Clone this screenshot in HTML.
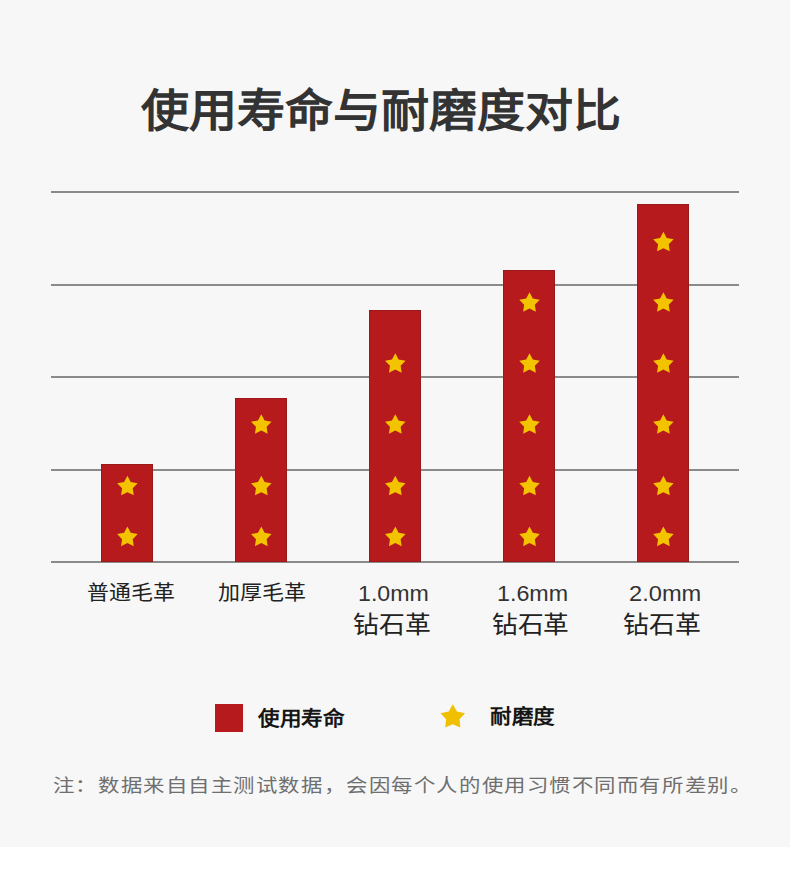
<!DOCTYPE html>
<html lang="zh-CN">
<head>
<meta charset="utf-8">
<style>
html,body{margin:0;padding:0;}
body{width:790px;height:884px;position:relative;overflow:hidden;background:#ffffff;font-family:"Liberation Sans",sans-serif;}
#bg{position:absolute;left:0;top:0;width:790px;height:847px;background:#f7f7f7;}
.t{position:absolute;white-space:nowrap;line-height:1;transform-origin:0 0;}
.g{position:absolute;left:51px;width:688px;height:2px;background:#8a8a8a;}
.bar{position:absolute;width:52px;background:#b71a1c;box-shadow:inset 0 0 0 1px #9a1a1c;}
</style>
</head>
<body>
<div id="bg"></div>
<div class="t" id="title" style="left:140.6px;top:89.42px;font-size:48px;color:#333;transform:scale(1.0,0.9447);font-weight:bold;">使用寿命与耐磨度对比</div>
<div class="g" style="top:191px"></div>
<div class="g" style="top:284px"></div>
<div class="g" style="top:376px"></div>
<div class="g" style="top:469px"></div>
<div class="g" style="top:561px"></div>
<div class="bar" style="left:101px;top:464px;height:98px"></div>
<div class="bar" style="left:235px;top:398px;height:164px"></div>
<div class="bar" style="left:369px;top:310px;height:252px"></div>
<div class="bar" style="left:503px;top:270px;height:292px"></div>
<div class="bar" style="left:637px;top:204px;height:358px"></div>
<svg width="790" height="884" style="position:absolute;left:0;top:0">
<defs><path id="st" d="M0.000,-10.800 L3.301,-4.543 L10.271,-3.337 L5.341,1.735 L6.348,8.737 L0.000,5.616 L-6.348,8.737 L-5.341,1.735 L-10.271,-3.337 L-3.301,-4.543 Z" fill="#f4c300"/><path id="st2" d="M0.000,-12.850 L4.154,-5.718 L12.221,-3.971 L6.722,2.184 L7.553,10.396 L0.000,7.068 L-7.553,10.396 L-6.722,2.184 L-12.221,-3.971 L-4.154,-5.718 Z" fill="#f0c000"/></defs>
<use href="#st" x="127.4" y="486.6"/>
<use href="#st" x="127.4" y="537.4"/>
<use href="#st" x="261.3" y="425"/>
<use href="#st" x="261.3" y="486.6"/>
<use href="#st" x="261.3" y="537.4"/>
<use href="#st" x="395.3" y="364"/>
<use href="#st" x="395.3" y="425"/>
<use href="#st" x="395.3" y="486.6"/>
<use href="#st" x="395.3" y="537.4"/>
<use href="#st" x="529.5" y="303"/>
<use href="#st" x="529.5" y="364"/>
<use href="#st" x="529.5" y="425"/>
<use href="#st" x="529.5" y="486.6"/>
<use href="#st" x="529.5" y="537.4"/>
<use href="#st" x="663.4" y="242.6"/>
<use href="#st" x="663.4" y="303"/>
<use href="#st" x="663.4" y="364"/>
<use href="#st" x="663.4" y="425"/>
<use href="#st" x="663.4" y="486.6"/>
<use href="#st" x="663.4" y="537.4"/>
<use href="#st2" x="452.8" y="717.1"/>
</svg>
<div class="t" id="lab1" style="left:86.7px;top:583.65px;font-size:22px;color:#222;transform:scale(0.9976,0.9048);">普通毛革</div>
<div class="t" id="lab2" style="left:217.7px;top:583.26px;font-size:22px;color:#222;transform:scale(1.0012,0.9238);">加厚毛革</div>
<div class="t" id="mm1" style="left:358.49px;top:583.29px;font-size:23px;color:#333;transform:scale(1.0075,0.9625);">1.0mm</div>
<div class="t" id="zs1" style="left:352.75px;top:613.48px;font-size:25px;color:#222;transform:scale(1.0347,0.95);">钻石革</div>
<div class="t" id="mm2" style="left:497.18px;top:583.14px;font-size:23px;color:#333;transform:scale(1.0119,0.9438);">1.6mm</div>
<div class="t" id="zs2" style="left:491.96px;top:613.08px;font-size:25px;color:#222;transform:scale(1.0292,0.9583);">钻石革</div>
<div class="t" id="mm3" style="left:628.86px;top:583.14px;font-size:23px;color:#333;transform:scale(1.0284,0.9438);">2.0mm</div>
<div class="t" id="zs3" style="left:622.55px;top:613.09px;font-size:25px;color:#222;transform:scale(1.0361,0.975);">钻石革</div>
<div style="position:absolute;left:215px;top:704px;width:28px;height:28px;background:#b71a1c"></div>
<div class="t" id="leg1t" style="left:257.71px;top:708.66px;font-size:22px;color:#151515;transform:scale(0.9828,0.9238);font-weight:900;">使用寿命</div>
<div class="t" id="leg2t" style="left:489.61px;top:707.46px;font-size:22px;color:#151515;transform:scale(0.9785,0.919);font-weight:900;">耐磨度</div>
<div class="t" id="note" style="left:51.82px;top:776.27px;font-size:20px;color:#6f6f6f;transform:scale(1,0.9316);font-weight:500;"><span style="display:inline-block;width:22.57px;text-align:center;transform:scaleX(1.07)">注</span><span style="display:inline-block;width:22.57px;text-align:center;transform:scaleX(1.07)">：</span><span style="display:inline-block;width:22.57px;text-align:center;transform:scaleX(1.07)">数</span><span style="display:inline-block;width:22.57px;text-align:center;transform:scaleX(1.07)">据</span><span style="display:inline-block;width:22.57px;text-align:center;transform:scaleX(1.07)">来</span><span style="display:inline-block;width:22.57px;text-align:center;transform:scaleX(1.07)">自</span><span style="display:inline-block;width:22.57px;text-align:center;transform:scaleX(1.07)">自</span><span style="display:inline-block;width:22.57px;text-align:center;transform:scaleX(1.07)">主</span><span style="display:inline-block;width:22.57px;text-align:center;transform:scaleX(1.07)">测</span><span style="display:inline-block;width:22.57px;text-align:center;transform:scaleX(1.07)">试</span><span style="display:inline-block;width:22.57px;text-align:center;transform:scaleX(1.07)">数</span><span style="display:inline-block;width:22.57px;text-align:center;transform:scaleX(1.07)">据</span><span style="display:inline-block;width:22.57px;text-align:center;transform:scaleX(1.07)">，</span><span style="display:inline-block;width:22.57px;text-align:center;transform:scaleX(1.07)">会</span><span style="display:inline-block;width:22.57px;text-align:center;transform:scaleX(1.07)">因</span><span style="display:inline-block;width:22.57px;text-align:center;transform:scaleX(1.07)">每</span><span style="display:inline-block;width:22.57px;text-align:center;transform:scaleX(1.07)">个</span><span style="display:inline-block;width:22.57px;text-align:center;transform:scaleX(1.07)">人</span><span style="display:inline-block;width:22.57px;text-align:center;transform:scaleX(1.07)">的</span><span style="display:inline-block;width:22.57px;text-align:center;transform:scaleX(1.07)">使</span><span style="display:inline-block;width:22.57px;text-align:center;transform:scaleX(1.07)">用</span><span style="display:inline-block;width:22.57px;text-align:center;transform:scaleX(1.07)">习</span><span style="display:inline-block;width:22.57px;text-align:center;transform:scaleX(1.07)">惯</span><span style="display:inline-block;width:22.57px;text-align:center;transform:scaleX(1.07)">不</span><span style="display:inline-block;width:22.57px;text-align:center;transform:scaleX(1.07)">同</span><span style="display:inline-block;width:22.57px;text-align:center;transform:scaleX(1.07)">而</span><span style="display:inline-block;width:22.57px;text-align:center;transform:scaleX(1.07)">有</span><span style="display:inline-block;width:22.57px;text-align:center;transform:scaleX(1.07)">所</span><span style="display:inline-block;width:22.57px;text-align:center;transform:scaleX(1.07)">差</span><span style="display:inline-block;width:22.57px;text-align:center;transform:scaleX(1.07)">别</span><span style="display:inline-block;width:22.57px;text-align:center;transform:scaleX(1.07)">。</span></div>
</body>
</html>
